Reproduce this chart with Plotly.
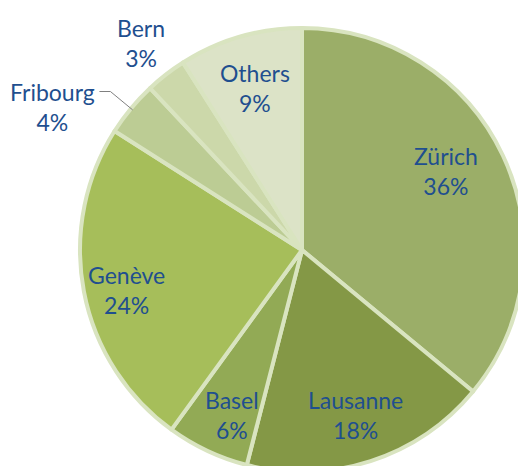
import math
import plotly.graph_objects as go

# ---- data ----
cities = ["Zürich", "Lausanne", "Basel", "Genève", "Fribourg", "Bern", "Others"]
shares = [36, 18, 6, 24, 4, 3, 9]

# ---- style ----
slice_colors = ["#9BAE68", "#849846", "#92AA55", "#A6BE5A", "#BCCC94", "#CCD8AA", "#DCE3C7"]
border_color = "#D9E4C0"
text_color = "#1F4F8F"
font_family = "Lato"
font_size = 23
label_radius = [0.74, 0.78, 0.81, 0.81, None, 1.18, 0.76]  # None -> leader-line label
label_turn = [-0.010, 0.0, -0.006, -0.006, 0.0, 0.0, 0.0]  # small angular nudges (fraction of turn)

W, H = 524, 472
dom_x = [80 / W, 1.0]
dom_y = [0.0, 1 - 28 / H]

fig = go.Figure(go.Pie(
    labels=cities,
    values=shares,
    sort=False,
    direction="clockwise",
    rotation=0,
    textinfo="none",
    hoverinfo="skip",
    marker=dict(colors=slice_colors, line=dict(color=border_color, width=4)),
    domain=dict(x=dom_x, y=dom_y),
    showlegend=False,
))

# geometry of the pie (pixels, from top-left), as plotly computes it
box_w = W * (dom_x[1] - dom_x[0])
box_h = H * (dom_y[1] - dom_y[0])
R = min(box_w, box_h) / 2
cx = W * (dom_x[0] + dom_x[1]) / 2
cy = H * (1 - dom_y[0]) - box_h / 2

def to_paper(px, py):
    return px / W, 1 - py / H

def polar(angle_frac, rf):
    a = 2 * math.pi * angle_frac
    return cx + rf * R * math.sin(a), cy - rf * R * math.cos(a)

total = sum(shares)
annotations = []
shapes = []
cum = 0
for name, v, rf, turn in zip(cities, shares, label_radius, label_turn):
    mid = (cum + v / 2) / total
    cum += v
    pct = round(100 * v / total)
    text = f"{name}<br>{pct}%"
    font = dict(family=font_family, size=font_size, color=text_color)
    if rf is not None:
        px, py = polar(mid + turn, rf)
        x, y = to_paper(px, py)
        annotations.append(dict(x=x, y=y, xref="paper", yref="paper", text=text,
                                showarrow=False, xanchor="center", yanchor="middle",
                                align="center", font=font))
    else:
        ex, ey = polar(mid, 0.99)
        bx, by = polar(mid, 1.12)
        hx = bx - 11
        x0, y0 = to_paper(ex, ey)
        x1, y1 = to_paper(bx, by)
        x2, y2 = to_paper(hx, by)
        shapes.append(dict(type="path", xref="paper", yref="paper",
                           path=f"M {x0} {y0} L {x1} {y1} L {x2} {y2}",
                           line=dict(color="#808080", width=1)))
        lx, ly = to_paper(hx - 2, by - 16)
        annotations.append(dict(x=lx, y=ly, xref="paper", yref="paper", text=text,
                                showarrow=False, xanchor="right", yanchor="top",
                                align="center", font=font))

fig.update_layout(
    width=W, height=H,
    margin=dict(l=0, r=0, t=0, b=0),
    paper_bgcolor="white",
    plot_bgcolor="white",
    annotations=annotations,
    shapes=shapes,
)

fig.write_html("out.html",
               config={"displayModeBar": False},
               post_script="document.body.style.margin='0';document.body.style.overflow='hidden';")
